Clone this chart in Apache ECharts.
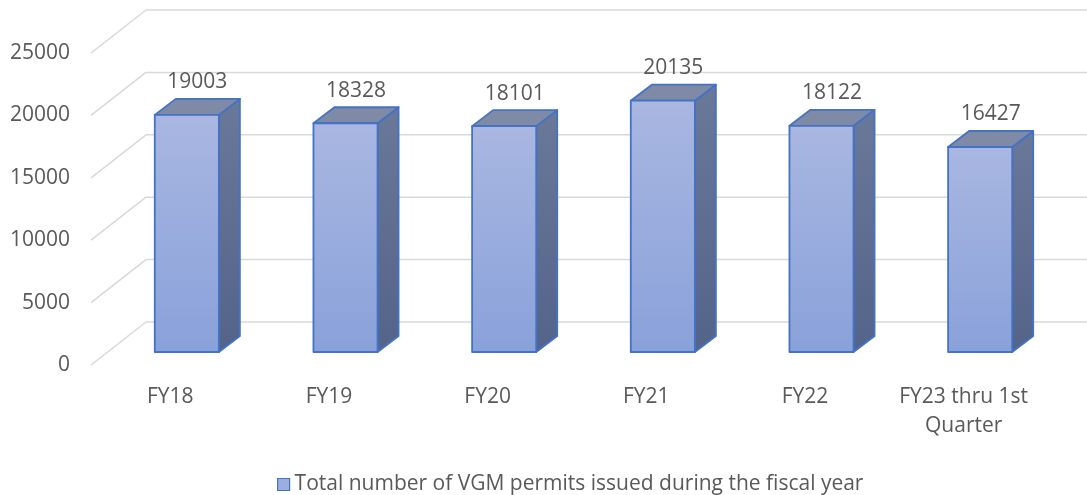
<!DOCTYPE html>
<html>
<head>
<meta charset="utf-8">
<script src="https://cdn.jsdelivr.net/npm/echarts@6/dist/echarts.min.js"></script>
<style>
html,body{margin:0;padding:0;background:#fff;}
#chart{width:1087px;height:495px;}
</style>
</head>
<body>
<div id="chart"></div>
<script>
const categories = ['FY18', 'FY19', 'FY20', 'FY21', 'FY22', 'FY23 thru 1st\nQuarter'];
const permits = [19003, 18328, 18101, 20135, 18122, 16427];
const yTicks = [0, 5000, 10000, 15000, 20000, 25000];
const seriesName = 'Total number of VGM permits issued during the fiscal year';

const FONT = '"Open Sans", "Noto Sans", sans-serif';
const TEXT = '#595959';
const WALL_DX = 55, WALL_DY = -43;   // depth of the back wall
const BAR_OX = 16.5, BAR_OY = -13;   // bar front face offset into depth
const BAR_DX = 21, BAR_DY = -16;     // bar depth
const BORDER = '#4472c4';

const chart = echarts.init(document.getElementById('chart'));

function renderWall(params, api) {
  const v = api.value(0);
  const band = api.size([1, 0])[0];
  const p0 = api.coord([0, v]);
  const pN = api.coord([categories.length - 1, v]);
  const xl = p0[0] - band / 2;
  const xr = pN[0] + band / 2;
  const y = p0[1];
  const style = { stroke: '#d9d9d9', lineWidth: 1.5, fill: null };
  return {
    type: 'group',
    children: [
      { type: 'line', shape: { x1: xl, y1: y, x2: xl + WALL_DX, y2: y + WALL_DY }, style },
      { type: 'line', shape: { x1: xl + WALL_DX, y1: y + WALL_DY, x2: xr + WALL_DX, y2: y + WALL_DY }, style }
    ]
  };
}

function renderBar(params, api) {
  const idx = api.value(0);
  const v = api.value(1);
  const base = api.coord([idx, 0]);
  const top = api.coord([idx, v]);
  const band = api.size([1, 0])[0];
  const w = band * 0.404;
  const x0 = base[0] - w / 2 + BAR_OX, x1 = x0 + w;
  const yb = base[1] + BAR_OY, yt = top[1] + BAR_OY;
  const stroke = { stroke: BORDER, lineWidth: 1.8, lineJoin: 'round' };
  return {
    type: 'group',
    children: [
      {
        type: 'polygon',
        shape: { points: [[x1, yt], [x1 + BAR_DX, yt + BAR_DY], [x1 + BAR_DX, yb + BAR_DY], [x1, yb]] },
        style: Object.assign({
          fill: new echarts.graphic.LinearGradient(0, 0, 0, 1, [
            { offset: 0, color: '#6a7899' }, { offset: 1, color: '#546389' }
          ])
        }, stroke)
      },
      {
        type: 'polygon',
        shape: { points: [[x0, yt], [x0 + BAR_DX, yt + BAR_DY], [x1 + BAR_DX, yt + BAR_DY], [x1, yt]] },
        style: Object.assign({ fill: '#7f8aa6' }, stroke)
      },
      {
        type: 'rect',
        shape: { x: x0, y: yt, width: w, height: yb - yt },
        style: Object.assign({
          fill: new echarts.graphic.LinearGradient(0, 0, 0, 1, [
            { offset: 0, color: '#a9b7e1' }, { offset: 1, color: '#89a1da' }
          ])
        }, stroke)
      },
      {
        type: 'text',
        x: (x0 + x1) / 2 + BAR_DX / 2,
        y: yt + BAR_DY - 6,
        style: {
          text: String(v), fill: TEXT, font: '21px ' + FONT,
          align: 'center', verticalAlign: 'bottom'
        }
      }
    ]
  };
}

chart.setOption({
  animation: false,
  backgroundColor: '#ffffff',
  grid: { left: 91, right: 44, top: 53, bottom: 130 },
  legend: {
    top: 469,
    left: 272,
    itemWidth: 12,
    itemHeight: 12,
    itemGap: 5,
    icon: 'rect',
    textStyle: { color: TEXT, fontSize: 21, fontFamily: FONT },
    data: [{ name: seriesName, itemStyle: { color: '#9aaee0', borderColor: BORDER, borderWidth: 1.2 } }]
  },
  xAxis: {
    type: 'category',
    data: categories,
    axisLine: { show: false },
    axisTick: { show: false },
    axisLabel: {
      color: TEXT, fontSize: 21, fontFamily: FONT, margin: 18, lineHeight: 29,
      interval: 0
    }
  },
  yAxis: {
    type: 'value',
    min: 0, max: 25000, interval: 5000,
    axisLine: { show: false },
    axisTick: { show: false },
    splitLine: { show: false },
    axisLabel: {
      color: TEXT, fontSize: 21, fontFamily: FONT, margin: 21,
      formatter: v => String(v)
    }
  },
  series: [
    {
      type: 'custom',
      name: 'wall',
      silent: true,
      clip: false,
      renderItem: renderWall,
      data: yTicks.map(t => [t]),
      encode: { y: 0 },
      z: 1
    },
    {
      type: 'custom',
      name: seriesName,
      clip: false,
      renderItem: renderBar,
      itemStyle: { color: '#9aaee0' },
      data: permits.map((v, i) => [i, v]),
      encode: { x: 0, y: 1 },
      z: 2
    }
  ]
});
</script>
</body>
</html>
